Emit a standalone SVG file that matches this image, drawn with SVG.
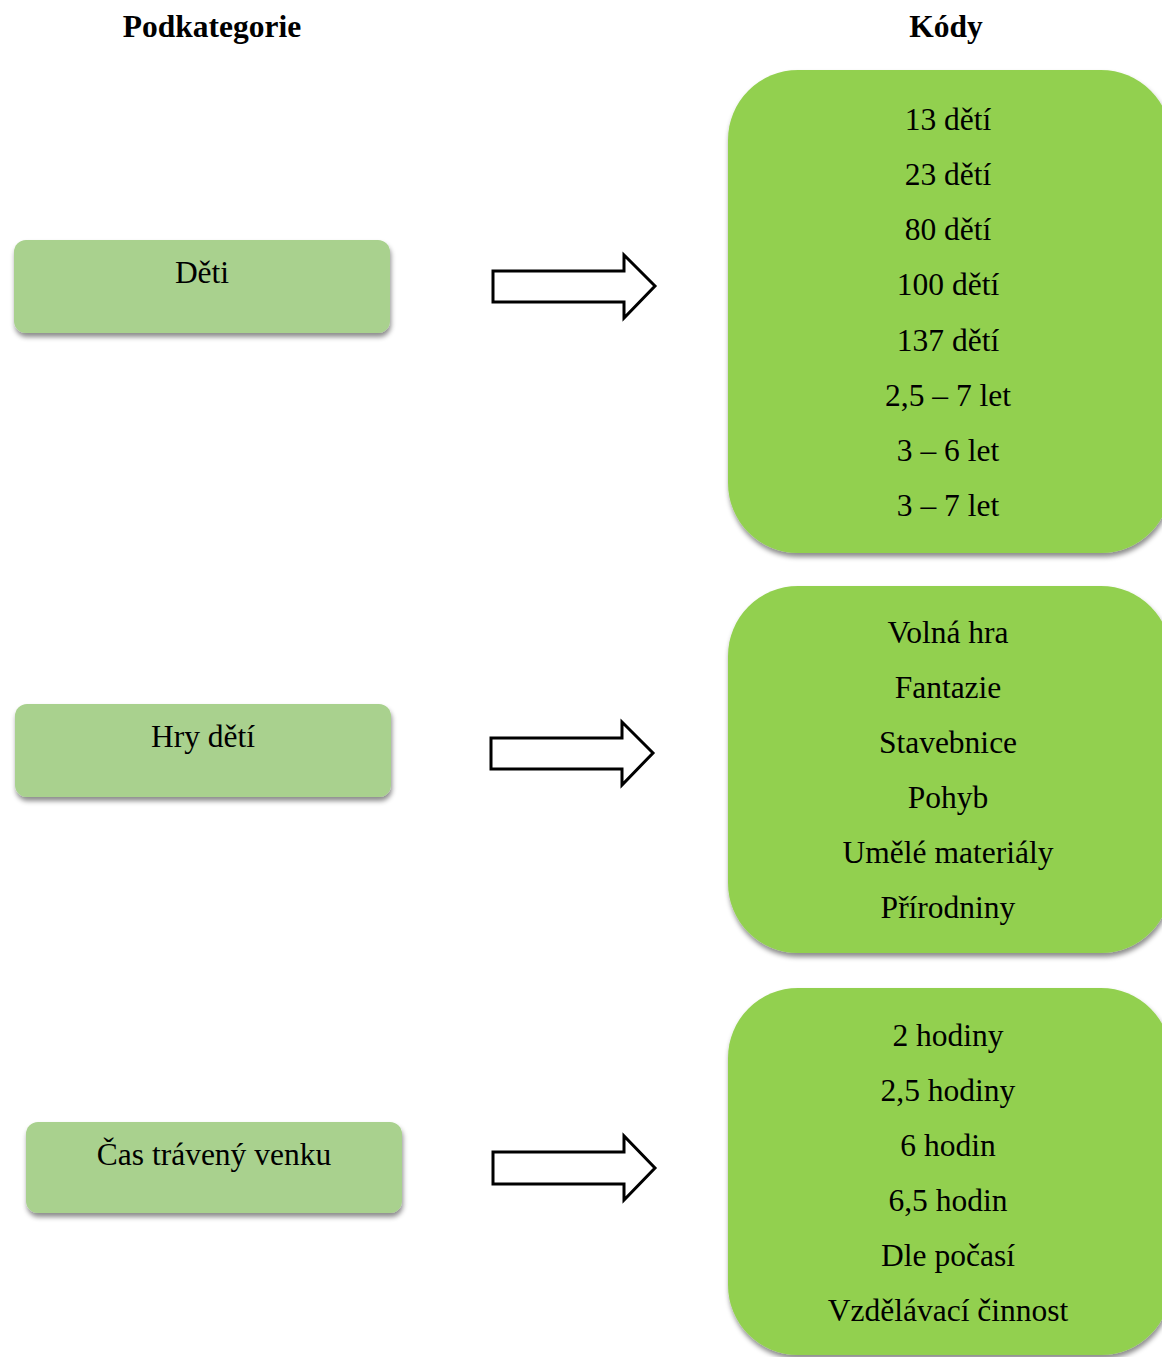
<svg xmlns="http://www.w3.org/2000/svg" width="1162" height="1357" viewBox="0 0 1162 1357">
<defs>
<filter id="sh" x="-10%" y="-10%" width="120%" height="130%">
<feDropShadow dx="1" dy="4" stdDeviation="2.5" flood-color="#000" flood-opacity="0.45"/>
</filter>
</defs>
<style>
text{font-family:"Liberation Serif","Times New Roman",serif;font-size:31.5px;fill:#000;text-anchor:middle}
.hd{font-weight:bold}
.sub{fill:#a9d18e;filter:url(#sh)}
.code{fill:#92d050;filter:url(#sh)}
.arr{fill:#fff;stroke:#000;stroke-width:3;stroke-linejoin:miter}
</style>
<rect width="1162" height="1357" fill="#fff"/>
<text class="hd" x="212" y="37">Podkategorie</text>
<text class="hd" x="946" y="37">Kódy</text>

<g id="node-deti">
<rect class="sub" x="14" y="240" width="376" height="93" rx="12"/>
<text x="202" y="283">Děti</text>
</g>
<g id="node-hry">
<rect class="sub" x="15" y="704" width="376" height="93" rx="12"/>
<text x="203" y="747">Hry dětí</text>
</g>
<g id="node-cas">
<rect class="sub" x="26" y="1122" width="376" height="91" rx="12"/>
<text x="214" y="1165">Čas trávený venku</text>
</g>

<g id="codes-deti">
<rect class="code" x="728" y="70" width="443" height="483" rx="70"/>
<text x="948" y="130">13 dětí</text>
<text x="948" y="185">23 dětí</text>
<text x="948" y="240">80 dětí</text>
<text x="948" y="295">100 dětí</text>
<text x="948" y="351">137 dětí</text>
<text x="948" y="406">2,5 – 7 let</text>
<text x="948" y="461">3 – 6 let</text>
<text x="948" y="516">3 – 7 let</text>
</g>
<g id="codes-hry">
<rect class="code" x="728" y="586" width="443" height="367" rx="70"/>
<text x="948" y="643">Volná hra</text>
<text x="948" y="698">Fantazie</text>
<text x="948" y="753">Stavebnice</text>
<text x="948" y="808">Pohyb</text>
<text x="948" y="863">Umělé materiály</text>
<text x="948" y="918">Přírodniny</text>
</g>
<g id="codes-cas">
<rect class="code" x="728" y="988" width="443" height="367" rx="70"/>
<text x="948" y="1046">2 hodiny</text>
<text x="948" y="1101">2,5 hodiny</text>
<text x="948" y="1156">6 hodin</text>
<text x="948" y="1211">6,5 hodin</text>
<text x="948" y="1266">Dle počasí</text>
<text x="948" y="1321">Vzdělávací činnost</text>
</g>

<g id="connectors">
<polygon class="arr" points="493,271 624,271 624,255 655,286 624,318 624,302 493,302"/>
<polygon class="arr" points="491,738 622,738 622,722 653,753 622,785 622,769 491,769"/>
<polygon class="arr" points="493,1152 624,1152 624,1136 655,1168 624,1200 624,1184 493,1184"/>
</g>
</svg>
